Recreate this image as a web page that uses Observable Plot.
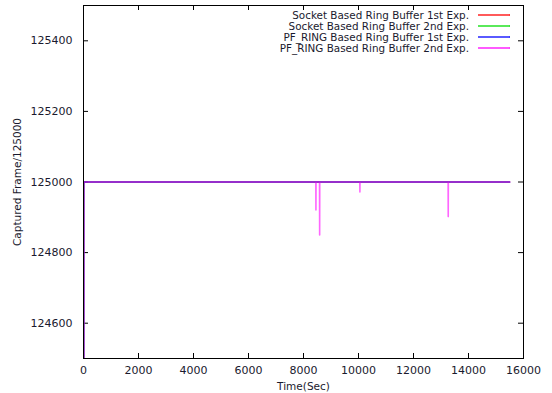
<!DOCTYPE html>
<html>
<head>
<meta charset="utf-8">
<script src="https://cdn.jsdelivr.net/npm/d3@7"></script>
<script src="https://cdn.jsdelivr.net/npm/@observablehq/plot@0.6"></script>
<style>
  html, body { margin: 0; padding: 0; background: #fff; }
  svg { display: block; }
</style>
</head>
<body>
<div id="chart"></div>
<script>
// Series names (legend order)
const seriesNames = [
  "Socket Based Ring Buffer 1st Exp.",
  "Socket Based Ring Buffer 2nd Exp.",
  "PF_RING Based Ring Buffer 1st Exp.",
  "PF_RING Based Ring Buffer 2nd Exp."
];
const seriesColors = ["#ff0000", "#00dd00", "#0000ff", "#ff00ff"];

// Time (sec) and captured frames per series
const socket1Time   = [0, 10, 15500];
const socket1Frames = [0, 125000, 125000];
const socket2Time   = [0, 10, 15500];
const socket2Frames = [0, 125000, 125000];
const pfring1Time   = [0, 10, 15500];
const pfring1Frames = [0, 125000, 125000];
const pfring2Time   = [0, 10, 8448, 8452, 8456, 8583, 8587, 8591, 10047, 10051, 10055, 13259, 13263, 13267, 15500];
const pfring2Frames = [0, 125000, 125000, 124921, 125000, 125000, 124850, 125000, 125000, 124972, 125000, 125000, 124902, 125000, 125000];

const xTicks = [0, 2000, 4000, 6000, 8000, 10000, 12000, 14000, 16000];
const yTicks = [124600, 124800, 125000, 125200, 125400];

const times = [socket1Time, socket2Time, pfring1Time, pfring2Time];
const frames = [socket1Frames, socket2Frames, pfring1Frames, pfring2Frames];
const data = seriesNames.flatMap((name, i) =>
  times[i].map((t, j) => ({series: name, idx: i, t, v: frames[i][j]})));

const W = 552, H = 393;
const mTop = 5, mBottom = 35, mLeft = 83, mRight = 29;
const plotH = H - mTop - mBottom;
const plotW = W - mLeft - mRight;
const tickLen = 5;
const font = "DejaVu Sans, sans-serif";
const textColor = "#1a1a2e";

const widths = [1, 1, 1.2, 1.6];
const opac = [1, 1, 1, 0.6];

const lineMarks = seriesNames.map((name, i) =>
  Plot.line(data.filter(d => d.idx === i), {
    x: "t", y: "v", stroke: seriesColors[i], strokeWidth: widths[i], strokeOpacity: opac[i], clip: true
  }));

const chart = Plot.plot({
  width: W, height: H,
  marginTop: mTop, marginBottom: mBottom, marginLeft: mLeft, marginRight: mRight,
  style: {fontFamily: font, fontSize: "11px", color: textColor, background: "#fff"},
  x: {domain: [0, 16000], ticks: xTicks, label: null},
  y: {domain: [124500, 125500], ticks: yTicks, label: null},
  marks: [
    // inward ticks on all four sides
    Plot.tickX(xTicks, {x: d => d, stroke: "#000", insetTop: plotH - tickLen}),
    Plot.tickX(xTicks, {x: d => d, stroke: "#000", insetBottom: plotH - tickLen}),
    Plot.tickY(yTicks, {y: d => d, stroke: "#000", insetRight: plotW - tickLen}),
    Plot.tickY(yTicks, {y: d => d, stroke: "#000", insetLeft: plotW - tickLen}),
    Plot.axisX({ticks: xTicks, tickSize: 0, tickPadding: 8, tickFormat: d => String(d), fill: textColor, label: null}),
    Plot.axisY({ticks: yTicks, tickSize: 0, tickPadding: 11, tickFormat: d => String(d), fill: textColor, label: null}),
    Plot.axisX({ticks: [], label: "Time(Sec)", labelAnchor: "center", labelArrow: "none", labelOffset: 31, fontSize: 10.5, fill: textColor}),
    Plot.axisY({ticks: [], label: "Captured Frame/125000", labelAnchor: "center", labelArrow: "none", labelOffset: 70, fontSize: 10.5, fill: textColor}),
    ...lineMarks,
    Plot.frame({stroke: "#000", strokeWidth: 1})
  ]
});

// Legend inside the plot, top right
const svg = d3.select(chart);
const lg = svg.append("g").attr("font-family", font).attr("font-size", 10.4).attr("fill", textColor);
seriesNames.forEach((name, i) => {
  const yy = 15 + i * 11;
  lg.append("text").attr("x", 469).attr("y", yy).attr("dy", "0.35em").attr("text-anchor", "end").text(name);
  lg.append("line").attr("x1", 478).attr("x2", 510).attr("y1", yy).attr("y2", yy)
    .style("stroke", seriesColors[i]).style("stroke-width", "1.3px");
});

document.getElementById("chart").appendChild(chart);
</script>
</body>
</html>
